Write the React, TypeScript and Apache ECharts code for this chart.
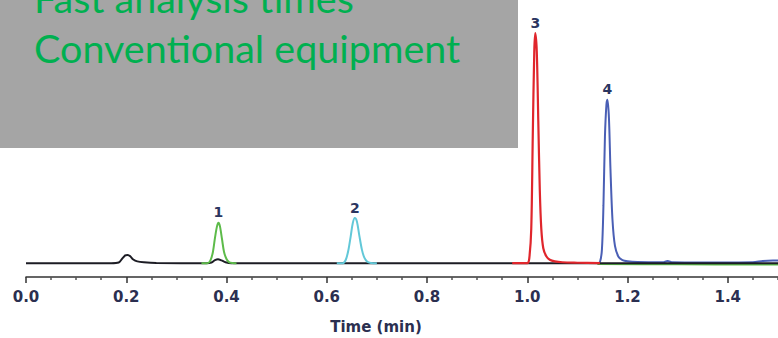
import React, { useEffect, useRef } from "react";
import * as echarts from "echarts";

// Time axis (min)
const tickLabels = ["0.0", "0.2", "0.4", "0.6", "0.8", "1.0", "1.2", "1.4"];

// Black trace (baseline with small bumps)
const blackTime = [0, 0.17, 0.185, 0.192, 0.198, 0.203, 0.208, 0.214, 0.222, 0.235, 0.26, 0.36, 0.37, 0.377, 0.383, 0.39, 0.398, 0.41, 1.55];
const blackValue = [0, 0, 0.3, 2.0, 3.4, 3.6, 3.0, 1.6, 0.8, 0.4, 0.1, 0, 0.3, 1.3, 1.7, 1.2, 0.4, 0, 0];

// Green trace (peak 1 + late baseline)
const greenTime = [0.35, 0.362, 0.368, 0.373, 0.377, 0.381, 0.384, 0.387, 0.391, 0.395, 0.4, 0.405, 0.412, 0.42];
const greenValue = [0, 0, 1.2, 5, 11, 16, 17.6, 16, 10.5, 5, 1.8, 0.5, 0.1, 0];
const greenTailTime = [1.14, 1.3, 1.45, 1.55];
const greenTailValue = [-0.4, -0.5, -0.6, -0.4];

// Cyan trace (peak 2)
const cyanTime = [0.62, 0.632, 0.638, 0.643, 0.648, 0.652, 0.656, 0.66, 0.665, 0.67, 0.675, 0.681, 0.688, 0.7];
const cyanValue = [0, 0, 1.5, 5.5, 12, 17.5, 19.6, 18.2, 12, 6, 2.4, 0.6, 0.1, 0];

// Red trace (peak 3)
const redTime = [0.97, 1.0, 1.004, 1.008, 1.011, 1.014, 1.016, 1.019, 1.022, 1.025, 1.028, 1.032, 1.038, 1.045, 1.055, 1.07, 1.1, 1.145];
const redValue = [0, 0, 2, 15, 55, 92, 100, 92, 62, 32, 15, 6.5, 3, 1.5, 0.8, 0.4, 0.2, 0];

// Blue trace (peak 4)
const blueTime = [1.14, 1.145, 1.149, 1.152, 1.155, 1.158, 1.16, 1.163, 1.166, 1.17, 1.175, 1.182, 1.19, 1.2, 1.22, 1.27, 1.28, 1.29, 1.35, 1.45, 1.47, 1.49, 1.55];
const blueValue = [0, 0.5, 6, 25, 55, 69, 71, 63, 41, 19, 7.5, 2.8, 1.3, 0.8, 0.5, 0.4, 0.9, 0.4, 0.3, 0.4, 1.0, 1.2, 1.0];

// Peak labels
const peakNames = ["1", "2", "3", "4"];

const zip = (t: number[], v: number[]) => t.map((x, i) => [x, v[i]]);

const peakMark = (name: string, t: number[], v: number[]) => {
  let idx = 0;
  v.forEach((y, i) => {
    if (y > v[idx]) idx = i;
  });
  return {
    symbol: "circle",
    symbolSize: 1,
    silent: true,
    itemStyle: { color: "rgba(0,0,0,0)" },
    label: {
      show: true,
      position: "top",
      distance: 3,
      formatter: "{b}",
      color: "#2b3560",
      fontFamily: "DejaVu Sans",
      fontWeight: "bold",
      fontSize: 14,
    },
    data: [{ name, coord: [t[idx], v[idx]] }],
  };
};

export default function App() {
  const ref = useRef<HTMLDivElement>(null);

  useEffect(() => {
    if (!ref.current) return;
    const chart = echarts.init(ref.current, undefined, { renderer: "svg" });
    const line = (color: string, width: number, data: number[][], z: number, markPoint?: any) => ({
      type: "line",
      data,
      showSymbol: false,
      symbol: "none",
      smooth: 0.3,
      lineStyle: { color, width },
      z,
      markPoint,
    });
    chart.setOption({
      animation: false,
      backgroundColor: "#ffffff",
      grid: { left: 26, right: -50, top: 10, bottom: 61, containLabel: false, outerBoundsMode: "none" },
      xAxis: {
        type: "value",
        min: 0,
        max: 1.6,
        interval: 0.2,
        name: "Time (min)",
        nameLocation: "middle",
        nameGap: 42,
        nameTextStyle: {
          color: "#2b2f50",
          fontFamily: "DejaVu Sans",
          fontWeight: "bold",
          fontSize: 15,
          padding: [0, 102, 0, 0],
        },
        axisLine: { show: true, onZero: false, lineStyle: { color: "#333333", width: 1.5 } },
        axisTick: { show: true, length: 6, lineStyle: { color: "#333333", width: 1.5 } },
        minorTick: { show: true, splitNumber: 4, length: 3, lineStyle: { color: "#555555", width: 1.5 } },
        splitLine: { show: false },
        minorSplitLine: { show: false },
        axisLabel: {
          margin: 12,
          color: "#2b2f50",
          fontFamily: "DejaVu Sans",
          fontWeight: "bold",
          fontSize: 15,
          formatter: (val: number) => {
            const i = Math.round(val / 0.2);
            return tickLabels[i] ?? "";
          },
        },
      },
      yAxis: {
        type: "value",
        min: -6,
        max: 110,
        show: false,
      },
      series: [
        line("#4a5fb5", 2, zip(blueTime, blueValue), 3, peakMark(peakNames[3], blueTime, blueValue)),
        line("#5dbb4a", 2, zip(greenTailTime, greenTailValue), 2),
        line("#1c1c24", 2, zip(blackTime, blackValue), 4),
        line("#5dbb4a", 2, zip(greenTime, greenValue), 5, peakMark(peakNames[0], greenTime, greenValue)),
        line("#62c8d8", 2, zip(cyanTime, cyanValue), 5, peakMark(peakNames[1], cyanTime, cyanValue)),
        line("#e0262c", 2.2, zip(redTime, redValue), 6, peakMark(peakNames[2], redTime, redValue)),
      ],
      graphic: [
        {
          type: "rect",
          left: 0,
          top: 0,
          shape: { x: 0, y: 0, width: 518, height: 148 },
          style: { fill: "#a5a5a5" },
          z: 100,
        },
        {
          type: "text",
          x: 34,
          y: 17,
          z: 101,
          style: {
            text: "Fast analysis times",
            fill: "#00b050",
            font: "39.5px Lato",
            verticalAlign: "bottom",
          },
        },
        {
          type: "text",
          x: 34,
          y: 67,
          z: 101,
          style: {
            text: "Conventional equipment",
            fill: "#00b050",
            font: "39.5px Lato",
            verticalAlign: "bottom",
          },
        },
      ],
    });
    return () => chart.dispose();
  }, []);

  return (
    <div
      ref={ref}
      style={{ position: "fixed", left: 0, top: 0, width: 778, height: 338 }}
    />
  );
}
